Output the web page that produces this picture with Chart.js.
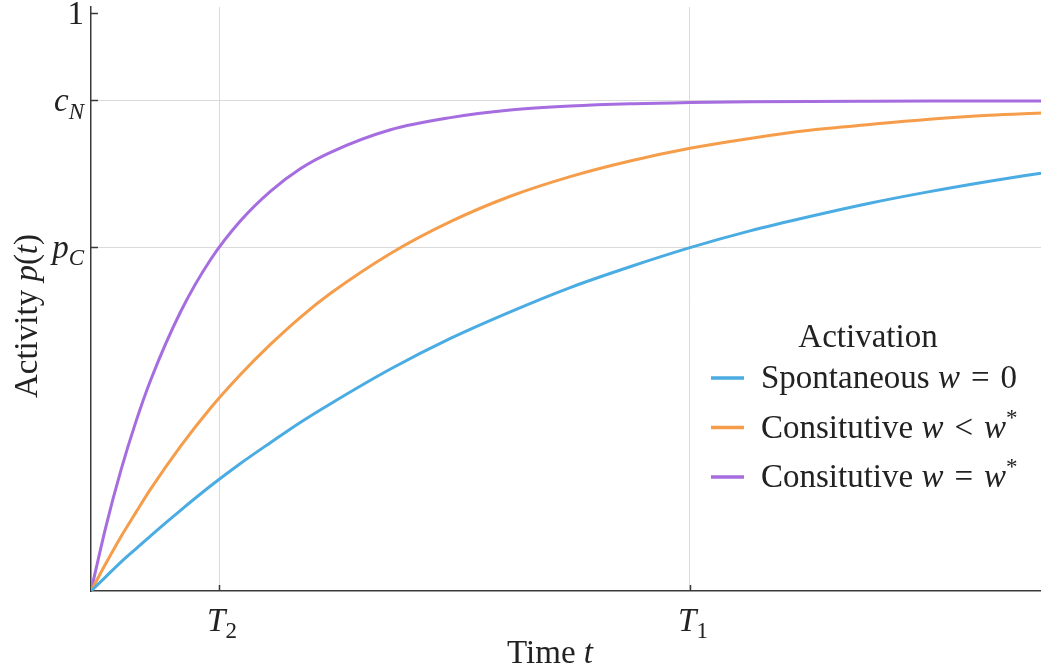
<!DOCTYPE html>
<html>
<head>
<meta charset="utf-8">
<script src="https://cdn.jsdelivr.net/npm/chart.js@4"></script>
<style>
  html, body { margin: 0; padding: 0; background: #fff; }
  canvas { display: block; }
</style>
</head>
<body>
<canvas id="myChart" width="1041" height="671"></canvas>
<script>
'use strict';

// time samples (T1 = 1)
const times = [0, 0.025, 0.05, 0.075, 0.1, 0.15, 0.2, 0.25, 0.3, 0.35, 0.4, 0.5,
	0.6, 0.7, 0.8, 0.9, 1.0, 1.1, 1.2, 1.3, 1.4, 1.5, 1.586];

// activity
const spontaneous = [0, 0.025, 0.050, 0.073, 0.096, 0.140, 0.182, 0.221, 0.257, 0.292,
	0.324, 0.384, 0.437, 0.483, 0.525, 0.561, 0.594, 0.623, 0.648, 0.671, 0.691, 0.709, 0.723];
const constitutiveBelow = [0, 0.048, 0.094, 0.136, 0.177, 0.251, 0.317, 0.375, 0.427, 0.474,
	0.515, 0.584, 0.639, 0.683, 0.717, 0.744, 0.766, 0.783, 0.797, 0.807, 0.816, 0.823, 0.827];
const constitutiveCritical = [0, 0.112, 0.209, 0.293, 0.366, 0.484, 0.574, 0.641, 0.692, 0.731,
	0.759, 0.798, 0.819, 0.832, 0.839, 0.843, 0.845, 0.8463, 0.8470, 0.8474, 0.8477, 0.8478, 0.8479];

const seriesLabels = ['Spontaneous w = 0', 'Consitutive w < w*', 'Consitutive w = w*'];
const seriesColors = ['#4aace2', '#f59d4a', '#a56ddf'];

const xTickValues = [0.2137, 1];
const xTickLabels = ['T_2', 'T_1'];
const yTickValues = [0.595, 0.849, 1];
const yTickLabels = ['p_C', 'c_N', '1'];

const FONT = "'Liberation Serif', 'DejaVu Serif', serif";
const FS = 33;
const TEXT = '#222';
const AXIS = '#3a3a3a';

function fontOf(part, size) {
	return (part.it ? 'italic ' : '') + size + 'px ' + FONT;
}

// parts: [{t, it, sub, sup}]
function drawRich(ctx, parts, x, y, align, size) {
	const sizes = parts.map((p) => (p.sub || p.sup ? Math.round(size * 0.7) : size));
	const widths = parts.map((p, i) => {
		ctx.font = fontOf(p, sizes[i]);
		return ctx.measureText(p.t).width;
	});
	const total = widths.reduce((a, b) => a + b, 0);
	let cx = x;
	if (align === 'center') cx = x - total / 2;
	if (align === 'right') cx = x - total;
	ctx.textAlign = 'left';
	ctx.textBaseline = 'alphabetic';
	parts.forEach((p, i) => {
		ctx.font = fontOf(p, sizes[i]);
		let dy = 0;
		if (p.sub) dy = size * 0.22;
		if (p.sup) dy = -size * 0.38;
		ctx.fillText(p.t, cx, y + dy);
		cx += widths[i];
	});
}

function tickParts(label) {
	const [base, sub] = label.split('_');
	const parts = [{ t: base, it: /[A-Za-z]/.test(base) }];
	if (sub) parts.push({ t: sub, it: /[A-Za-z]/.test(sub), sub: true });
	return parts;
}

function legendParts(label) {
	const parts = [];
	label.split(/(w\*?)/).forEach((s) => {
		if (!s) return;
		if (s[0] === 'w') {
			parts.push({ t: 'w', it: true });
			if (s.length > 1) parts.push({ t: '*', sup: true });
		} else {
			// math spacing around relations
			parts.push({ t: s.replace(/ ([=<]) /, '\u2004$1\u2004') });
		}
	});
	return parts;
}

const decorations = {
	id: 'decorations',
	afterDraw(chart) {
		const ctx = chart.ctx;
		const area = chart.chartArea;
		const xs = chart.scales.x;
		const ys = chart.scales.y;
		ctx.save();

		// inward ticks
		ctx.strokeStyle = AXIS;
		ctx.lineWidth = 1.5;
		ctx.beginPath();
		yTickValues.forEach((v) => {
			const py = Math.round(ys.getPixelForValue(v)) + 0.5;
			ctx.moveTo(area.left, py);
			ctx.lineTo(area.left + 7, py);
		});
		xTickValues.forEach((v) => {
			const px = Math.round(xs.getPixelForValue(v)) + 0.5;
			ctx.moveTo(px, area.bottom);
			ctx.lineTo(px, area.bottom - 6);
		});
		ctx.stroke();

		ctx.fillStyle = TEXT;
		// tick labels
		yTickValues.forEach((v, i) => {
			drawRich(ctx, tickParts(yTickLabels[i]), area.left - 7, ys.getPixelForValue(v) + 11, 'right', FS);
		});
		xTickValues.forEach((v, i) => {
			drawRich(ctx, tickParts(xTickLabels[i]), xs.getPixelForValue(v) + 3, area.bottom + 40, 'center', FS);
		});

		// axis titles
		drawRich(ctx, [{ t: 'Time ' }, { t: 't', it: true }], 550, 663, 'center', FS);
		ctx.save();
		ctx.translate(27, 316);
		ctx.rotate(-Math.PI / 2);
		drawRich(ctx, [{ t: 'Activity ' }, { t: 'p', it: true }, { t: '(' }, { t: 't', it: true }, { t: ')' }], 0, 10, 'center', FS);
		ctx.restore();

		// legend
		drawRich(ctx, [{ t: 'Activation' }], 868, 347, 'center', FS);
		chart.data.datasets.forEach((ds, i) => {
			const rowY = 378 + i * 49.5;
			ctx.strokeStyle = ds.borderColor;
			ctx.lineWidth = 3.5;
			ctx.beginPath();
			ctx.moveTo(711, rowY);
			ctx.lineTo(744, rowY);
			ctx.stroke();
			ctx.fillStyle = TEXT;
			drawRich(ctx, legendParts(ds.label), 761, rowY + 10, 'left', FS);
		});
		ctx.restore();
	},
};

function buildDatasets() {
	const seriesValues = [spontaneous, constitutiveBelow, constitutiveCritical];
	return seriesValues.map((values, i) => ({
		label: seriesLabels[i],
		data: values.map((y, j) => ({ x: times[j], y })),
		borderColor: seriesColors[i],
		borderWidth: 3,
		pointRadius: 0,
		fill: false,
		cubicInterpolationMode: 'monotone',
	}));
}

const ctx = document.getElementById('myChart').getContext('2d');
const myChart = new Chart(ctx, {
	type: 'line',
	data: { datasets: buildDatasets() },
	options: {
		responsive: false,
		animation: false,
		layout: { padding: { left: 91, right: 0, top: 7, bottom: 80 } },
		plugins: { legend: { display: false }, tooltip: { enabled: false } },
		scales: {
			x: {
				type: 'linear',
				min: 0,
				max: 1.586,
				afterBuildTicks: (axis) => { axis.ticks = xTickValues.map((v) => ({ value: v })); },
				ticks: { display: false },
				grid: { color: '#dadada', lineWidth: 1, drawTicks: false },
				border: { color: AXIS, width: 1.5 },
			},
			y: {
				type: 'linear',
				min: 0,
				max: 1.0104,
				afterBuildTicks: (axis) => { axis.ticks = yTickValues.map((v) => ({ value: v })); },
				ticks: { display: false },
				grid: {
					color: (c) => (c.tick && c.tick.value === 1 ? 'rgba(0,0,0,0)' : '#dadada'),
					lineWidth: 1,
					drawTicks: false,
				},
				border: { color: AXIS, width: 1.5 },
			},
		},
	},
	plugins: [decorations],
});
</script>
</body>
</html>
